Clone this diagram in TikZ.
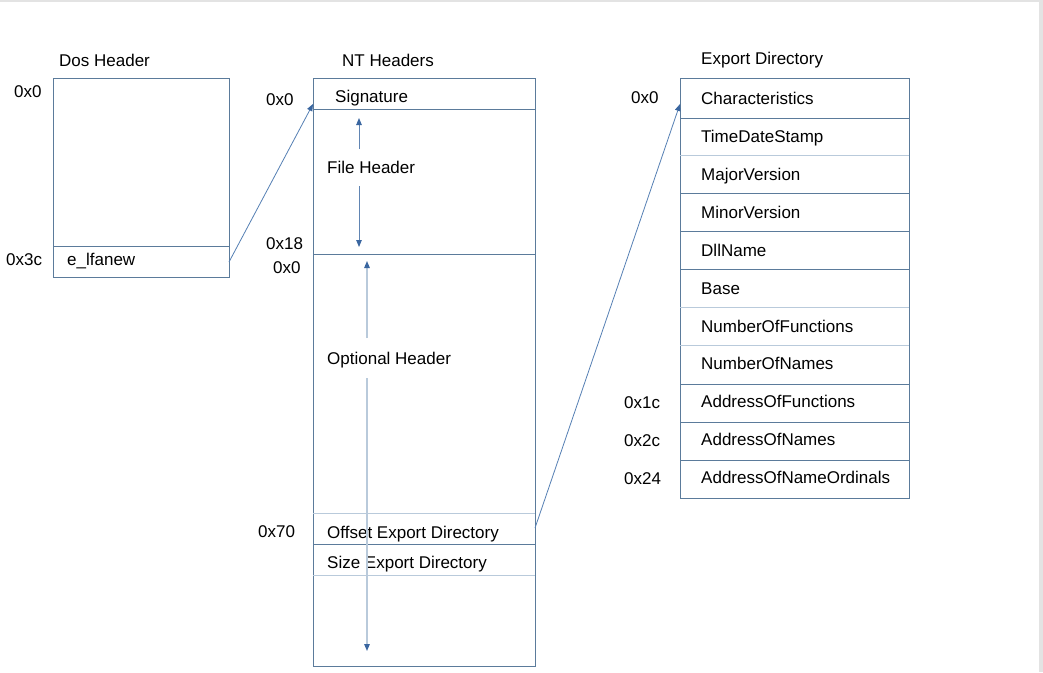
\documentclass[tikz,border=0pt]{standalone}
\usepackage{fontspec}
\setmainfont{Liberation Sans}
\usetikzlibrary{arrows.meta}
\definecolor{frame}{HTML}{5B7B9B}
\definecolor{paleline}{HTML}{B9CADB}
\definecolor{tip}{HTML}{3A66A0}
\definecolor{link}{HTML}{5680B4}
\tikzset{
  field/.style={anchor=base west, inner sep=0pt, font=\fontsize{17}{20}\selectfont},
  box/.style={draw=frame, line width=1pt, anchor=north west, inner sep=0pt, outer sep=0pt},
  tipto/.style={-{Triangle[length=7pt,width=5.5pt,color=tip]}},
  link/.style={draw=link, line width=0.8pt, tipto}
}
\begin{document}
\begin{tikzpicture}[x=1pt, y=-1pt]
            \useasboundingbox ( 0, 0 ) rectangle ( 1043, 672 );
            \fill [white] ( 0, 0 ) rectangle ( 1043, 672 );
            % край снимка
            \fill [gray!22] ( 1039, 0 ) rectangle ( 1043, 672 );
            \fill [gray!22] ( 0, 0 ) rectangle ( 1043, 1.5 );

            % Dos Header
            \node [field] (dos title) at ( 59, 66 ) {Dos Header};
            \node [box, minimum width=176pt, minimum height=199pt] (dos) at ( 53, 78 ) {};
            \draw [frame, line width=1pt] ( 53, 246 ) -- ( 229, 246 );
            \node [field] (dos 0) at ( 14, 97 ) {0x0};
            \node [field] (dos 3c) at ( 6, 265 ) {0x3c};
            \node [field] (lfanew) at ( 67, 265 ) {e\_lfanew};

            % NT Headers
            \node [field] (nt title) at ( 342, 66 ) {NT Headers};
            \node [box, minimum width=222pt, minimum height=588pt] (nt) at ( 313, 78 ) {};
            \draw [frame, line width=1pt] ( 313, 109 ) -- ( 535, 109 );
            \draw [frame, line width=1pt] ( 313, 254 ) -- ( 535, 254 );
            \draw [paleline, line width=1pt] ( 313, 513 ) -- ( 535, 513 );
            \draw [frame, line width=1pt] ( 313, 544 ) -- ( 535, 544 );
            \draw [paleline, line width=1pt] ( 313, 575 ) -- ( 535, 575 );
            \node [field] (nt 0) at ( 266, 105 ) {0x0};
            \node [field] (nt 18) at ( 266, 249 ) {0x18};
            \node [field] (opt 0) at ( 273, 273 ) {0x0};
            \node [field] (nt 70) at ( 258, 537 ) {0x70};
            \node [field] (sig) at ( 335, 102 ) {Signature};
            \node [field] (filehdr) at ( 327, 173 ) {File Header};
            \node [field] (opthdr) at ( 327, 364 ) {Optional Header};
            \node [field] (offexp) at ( 327, 538 ) {Offset Export Directory};
            \node [field] (sizeexp) at ( 327, 568 ) {Size Export Directory};

            % стрелки внутри
            \coordinate (fh a) at ( 359, 149 );
            \coordinate (fh top) at ( 359, 118 );
            \coordinate (fh b) at ( 359, 186 );
            \coordinate (fh bot) at ( 359, 247 );
            \draw [tipto, draw=tip!80, line width=0.9pt] (fh a) -- (fh top);
            \draw [tipto, draw=tip!80, line width=0.9pt] (fh b) -- (fh bot);
            \coordinate (oh a) at ( 367, 338 );
            \coordinate (oh top) at ( 367, 261 );
            \coordinate (oh b) at ( 367, 378 );
            \coordinate (oh bot) at ( 367, 651 );
            \draw [tipto, draw=paleline, line width=1.2pt] (oh a) -- (oh top);
            \draw [tipto, draw=paleline, line width=1.2pt] (oh b) -- (oh bot);

            % Export Directory
            \node [field] (ed title) at ( 701, 64 ) {Export Directory};
            \node [box, minimum width=229pt, minimum height=420pt] (ed) at ( 680, 78 ) {};
            \draw [frame, line width=1pt] ( 680, 118 ) -- ( 909, 118 );
            \draw [paleline, line width=1pt] ( 680, 155 ) -- ( 909, 155 );
            \draw [frame, line width=1pt] ( 680, 193 ) -- ( 909, 193 );
            \draw [frame, line width=1pt] ( 680, 231 ) -- ( 909, 231 );
            \draw [frame, line width=1pt] ( 680, 269 ) -- ( 909, 269 );
            \draw [paleline, line width=1pt] ( 680, 307 ) -- ( 909, 307 );
            \draw [paleline, line width=1pt] ( 680, 345 ) -- ( 909, 345 );
            \draw [frame, line width=1pt] ( 680, 384 ) -- ( 909, 384 );
            \draw [frame, line width=1pt] ( 680, 422 ) -- ( 909, 422 );
            \draw [frame, line width=1pt] ( 680, 460 ) -- ( 909, 460 );
            \node [field] (chars) at ( 701, 104 ) {Characteristics};
            \node [field] (stamp) at ( 701, 142 ) {TimeDateStamp};
            \node [field] (major) at ( 701, 180 ) {MajorVersion};
            \node [field] (minor) at ( 701, 218 ) {MinorVersion};
            \node [field] (dll) at ( 701, 256 ) {DllName};
            \node [field] (base) at ( 701, 294 ) {Base};
            \node [field] (nfunc) at ( 701, 332 ) {NumberOfFunctions};
            \node [field] (nname) at ( 701, 369 ) {NumberOfNames};
            \node [field] (afunc) at ( 701, 407 ) {AddressOfFunctions};
            \node [field] (aname) at ( 701, 445 ) {AddressOfNames};
            \node [field] (aord) at ( 701, 483 ) {AddressOfNameOrdinals};
            \node [field] (ed 0) at ( 631, 103 ) {0x0};
            \node [field] (ed 1c) at ( 624, 408 ) {0x1c};
            \node [field] (ed 2c) at ( 624, 446 ) {0x2c};
            \node [field] (ed 24) at ( 624, 484 ) {0x24};

            % связи
            \coordinate (lfanew out) at ( 229, 262 );
            \coordinate (nt in) at ( 313, 104 );
            \coordinate (offexp out) at ( 535, 528 );
            \coordinate (ed in) at ( 680, 104 );
            \draw [link] (lfanew out) -- (nt in);
            \draw [link] (offexp out) -- (ed in);
        \end{tikzpicture}
\end{document}
